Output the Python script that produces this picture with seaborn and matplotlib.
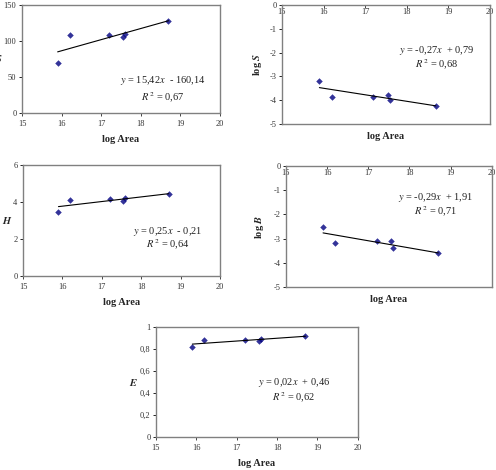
import numpy as np
import pandas as pd
import seaborn as sns
import matplotlib
matplotlib.use('Agg')
import matplotlib.pyplot as plt
from matplotlib.ticker import FuncFormatter

# values
log_area = [15.9, 16.2, 17.2, 17.55, 17.6, 18.7]
S = [69, 108, 108, 106, 110, 128]
log_S = [-3.2, -3.87, -3.87, -3.8, -3.98, -4.23]
H = [3.47, 4.13, 4.15, 4.05, 4.2, 4.43]
log_B = [-2.52, -3.17, -3.12, -3.1, -3.37, -3.6]
E = [0.82, 0.88, 0.885, 0.87, 0.895, 0.915]

eq_S = [r'$y$ = 15,42$x$  - 160,14', r'$R^{\,2}$ = 0,67']
eq_logS = [r'$y$ = -0,27$x$  + 0,79', r'$R^{\,2}$ = 0,68']
eq_H = [r'$y$ = 0,25$x$  - 0,21', r'$R^{\,2}$ = 0,64']
eq_logB = [r'$y$ = -0,29$x$  + 1,91', r'$R^{\,2}$ = 0,71']
eq_E = [r'$y$ = 0,02$x$  + 0,46', r'$R^{\,2}$ = 0,62']

df = pd.DataFrame({'log Area': log_area, 'S': S, 'log S': log_S,
                   'H': H, 'log B': log_B, 'E': E})

sns.set_style('white')
plt.rcParams['font.family'] = ['Liberation Serif', 'DejaVu Serif']
plt.rcParams['axes.unicode_minus'] = False
plt.rcParams['mathtext.fontset'] = 'stix'

fig = plt.figure(figsize=(4.96, 4.70), dpi=100)

navy = '#000080'
frame = '#808080'
comma = FuncFormatter(lambda v, p: ('%g' % v).replace('.', ','))


def panel(rect, col, ylim, yticks, ylab, eq, eq_xy, top_axis=False, rot=0, ylabx=None):
    ax = fig.add_axes(rect)
    sns.regplot(data=df, x='log Area', y=col, ax=ax, ci=None, truncate=True,
                marker='D', scatter_kws={'s': 11, 'color': navy, 'linewidths': 0},
                line_kws={'color': 'black', 'lw': 0.8})
    ax.set_xlim(15, 20)
    ax.set_ylim(*ylim)
    ax.set_xticks(range(15, 21))
    ax.set_yticks(yticks)
    ax.yaxis.set_major_formatter(comma)
    for s in ax.spines.values():
        s.set_color(frame)
        s.set_linewidth(1.0)
    ax.tick_params(axis='y', labelsize=6, length=2, width=0.6, left=True,
                   color='black', pad=2, labelcolor='#333333')
    if top_axis:
        ax.tick_params(axis='x', labelsize=6, top=True, bottom=False,
                       labeltop=True, labelbottom=False, direction='in',
                       length=2, width=0.6, pad=-8, labelcolor='#333333')
        ax.xaxis.set_label_position('bottom')
        ax.set_xlabel('log Area', fontsize=7.5, fontweight='bold', labelpad=6)
    else:
        ax.tick_params(axis='x', labelsize=6, bottom=True, length=2,
                       width=0.6, pad=3, labelcolor='#333333')
        ax.set_xlabel('log Area', fontsize=7.5, fontweight='bold', labelpad=5)
    ax.set_ylabel(ylab, fontsize=7.5, fontweight='bold', rotation=rot,
                  va='center', ha='center')
    if ylabx is not None:
        ax.yaxis.set_label_coords(ylabx, 0.5)
    x, y1, y2 = eq_xy
    ax.text(x, y1, eq[0], fontsize=7.5, ha='center', va='center', color='#222222')
    ax.text(x, y2, eq[1], fontsize=7.5, ha='center', va='center', color='#222222')
    return ax


panel([0.0444, 0.7596, 0.399, 0.2298], 'S', (0, 150), [0, 50, 100, 150],
      r'$\mathbfit{S}$', eq_S, (18.56, 45, 21), ylabx=-0.12)
panel([0.5685, 0.7362, 0.419, 0.2532], 'log S', (-5, 0), [-5, -4, -3, -2, -1, 0],
      r'log $\mathbfit{S}$', eq_logS, (18.73, -1.93, -2.5), top_axis=True,
      rot=90, ylabx=-0.12)
panel([0.0464, 0.4128, 0.397, 0.2362], 'H', (0, 6), [0, 2, 4, 6],
      r'$\mathbfit{H}$', eq_H, (18.68, 2.4, 1.66), ylabx=-0.08)
panel([0.5766, 0.3894, 0.415, 0.2574], 'log B', (-5, 0), [-5, -4, -3, -2, -1, 0],
      r'log $\mathbfit{B}$', eq_logB, (18.64, -1.29, -1.91), top_axis=True,
      rot=90, ylabx=-0.13)
panel([0.3145, 0.0702, 0.407, 0.234], 'E', (0, 1), [0, 0.2, 0.4, 0.6, 0.8, 1],
      r'$\mathbfit{E}$', eq_E, (18.42, 0.495, 0.36), ylabx=-0.11)

fig.savefig('out.png', dpi=100)
